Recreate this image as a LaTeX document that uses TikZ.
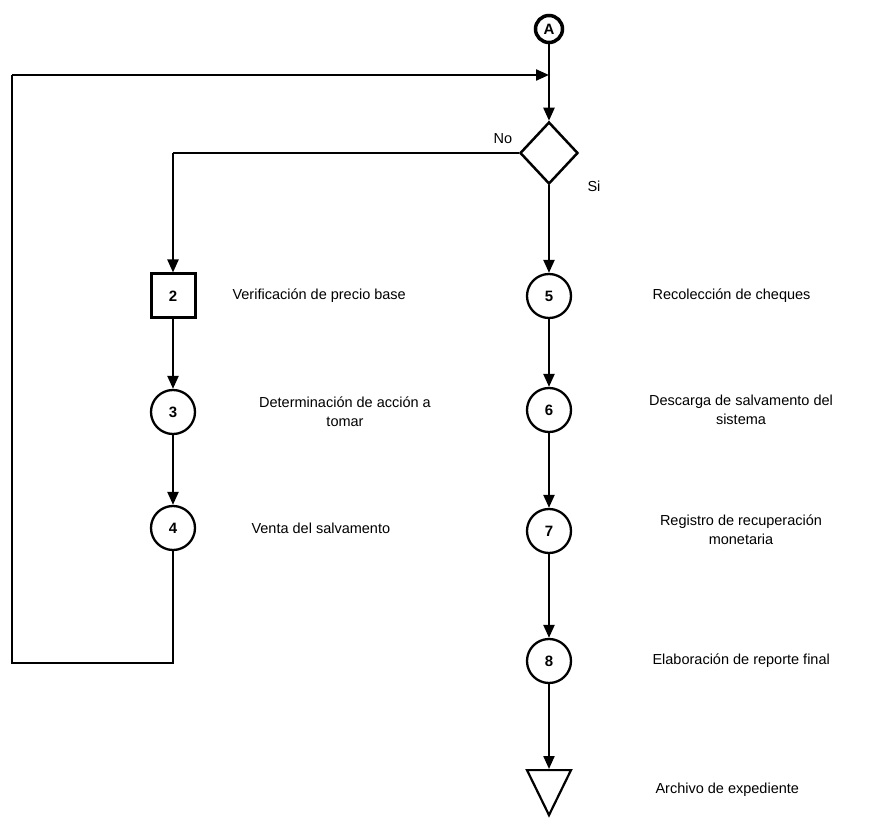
\documentclass[tikz,border=0pt]{standalone}
\usepackage{fontspec}
\setmainfont{Liberation Sans}
\usetikzlibrary{arrows.meta,shapes.geometric}
\begin{document}
\begin{tikzpicture}[x=1pt,y=-1pt,
  every node/.style={font=\fontsize{14.5}{19}\selectfont},
  op/.style={circle,draw,line width=2.3pt,minimum size=44pt,inner sep=0pt,font=\fontsize{15}{17}\selectfont\bfseries},
  insp/.style={rectangle,draw,line width=3pt,minimum size=44pt,inner sep=0pt,font=\fontsize{15}{17}\selectfont\bfseries},
  conn/.style={circle,draw,line width=3.5pt,minimum size=27pt,inner sep=0pt,font=\fontsize{15}{17}\selectfont\bfseries},
  dec/.style={diamond,draw,line width=2.5pt,minimum width=58pt,minimum height=62pt,inner sep=0pt},
  store/.style={isosceles triangle,shape border rotate=-90,isosceles triangle stretches,draw,line width=2.2pt,minimum width=44pt,minimum height=45pt,inner sep=0pt},
  flow/.style={line width=2.2pt,-{Triangle[length=13pt,width=11pt]}},
  plain/.style={line width=2.2pt},
  lbl/.style={anchor=west,align=left},
  clbl/.style={align=center}]
\useasboundingbox (0,0) rectangle (871,821);
\node[conn] (A) at (549,29) {A};
\coordinate (J) at (549,75);
\node[dec] (D) at (549,153) {};
\node[insp] (n2) at (173,296) {2};
\node[op] (n3) at (173,412) {3};
\node[op] (n4) at (173,528) {4};
\node[op] (n5) at (549,296) {5};
\node[op] (n6) at (549,410) {6};
\node[op] (n7) at (549,531) {7};
\node[op] (n8) at (549,661) {8};
\node[store,anchor=north] (T) at (549,769) {};
\coordinate (L1) at (12,663);
\coordinate (L2) at (12,75);
\coordinate (B1) at (173,663);
\coordinate (C1) at (173,153);

\draw[plain] (A) -- (J);
\draw[flow] (J) -- (D.north);
\draw[plain,line join=miter] (n4) -- (B1) -- (L1) -- (L2);
\draw[flow] (L2) -- (J);
\draw[plain] (D.west) -- (C1);
\draw[flow] (C1) -- (n2);
\draw[flow] (n2) -- (n3);
\draw[flow] (n3) -- (n4);
\draw[flow] (D.south) -- (n5);
\draw[flow] (n5) -- (n6);
\draw[flow] (n6) -- (n7);
\draw[flow] (n7) -- (n8);
\draw[flow] (n8) -- (T.north);

\node (no) at (503,139) {No};
\node (si) at (594,186) {Si};
\node[lbl] (t2) at (229,296) {Verificación de precio base};
\node[clbl] (t3) at (345,412) {Determinación de acción a\\tomar};
\node[lbl] (t4) at (248,528) {Venta del salvamento};
\node[lbl] (t5) at (649,296) {Recolección de cheques};
\node[clbl] (t6) at (741,410) {Descarga de salvamento del\\sistema};
\node[clbl] (t7) at (741,530) {Registro de recuperación\\monetaria};
\node[lbl] (t8) at (649,661) {Elaboración de reporte final};
\node[lbl] (t9) at (652,790) {Archivo de expediente};
\end{tikzpicture}
\end{document}
